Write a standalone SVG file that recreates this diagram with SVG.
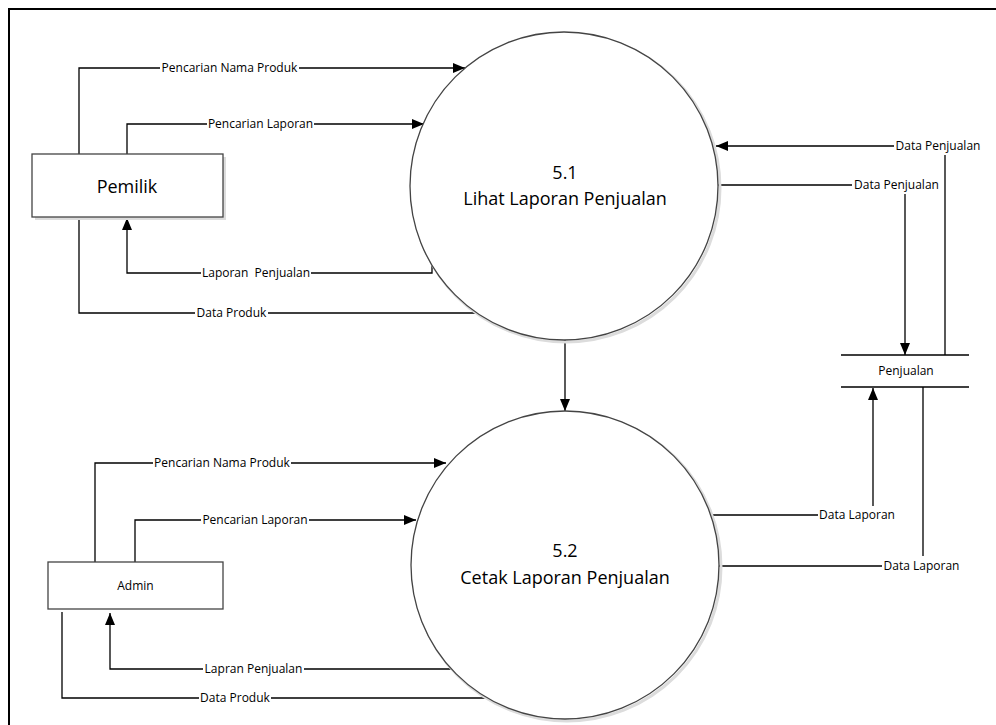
<svg xmlns="http://www.w3.org/2000/svg" width="996" height="725" viewBox="0 0 996 725">
  <style>
    .flow { fill: none; stroke: #000; stroke-width: 1.3; }
    .arr { marker-end: url(#head); }
    .bg { fill: #fff; }
    .lbl { font-family: "Open Sans", "Noto Sans", sans-serif; font-size: 12px; fill: #000; }
    .proc { fill: #fff; stroke: #444; stroke-width: 1.3; }
    .shadow { fill: none; stroke: #dcdcdc; stroke-width: 3; }
    .ptext { font-family: "Open Sans", "Noto Sans", sans-serif; font-size: 18px; fill: #000; text-anchor: middle; }
    .ent { fill: #fff; stroke: #444; stroke-width: 1.3; }
  </style>
  <defs>
    <marker id="head" viewBox="0 0 12 10" refX="12" refY="5" markerWidth="12" markerHeight="10" markerUnits="userSpaceOnUse" orient="auto">
      <path d="M0,0 L12,5 L0,10 Z" fill="#000"/>
    </marker>
  </defs>

  <rect width="996" height="725" fill="#fff"/>
  <!-- page frame -->
  <path d="M9,725 V9 H996" fill="none" stroke="#000" stroke-width="2"/>

  <!-- connectors -->
  <g id="connectors">
    <!-- Pemilik -> 5.1 -->
    <path class="flow arr" d="M79,154 V68 H465"/>
    <rect class="bg" x="160" y="61" width="139" height="14"/>
    <text class="lbl" x="229.5" y="72" text-anchor="middle">Pencarian Nama Produk</text>
    <path class="flow arr" d="M127,154 V124 H424"/>
    <rect class="bg" x="207" y="117" width="107" height="14"/>
    <text class="lbl" x="260.5" y="128" text-anchor="middle">Pencarian Laporan</text>
    <!-- 5.1 -> Pemilik -->
    <path class="flow arr" d="M432,262 V273 H127 V218"/>
    <rect class="bg" x="201" y="266" width="110" height="14"/>
    <text class="lbl" x="256" y="277" text-anchor="middle" xml:space="preserve">Laporan  Penjualan</text>
    <path class="flow" d="M478,313 H79 V217"/>
    <rect class="bg" x="195" y="306" width="73" height="14"/>
    <text class="lbl" x="231.5" y="317" text-anchor="middle">Data Produk</text>

    <!-- 5.1 -> 5.2 -->
    <path class="flow arr" d="M565,340 V411"/>

    <!-- Penjualan store <-> 5.1 -->
    <path class="flow arr" d="M945,355 V146 H716"/>
    <rect class="bg" x="894" y="139" width="90" height="16"/>
    <text class="lbl" x="938" y="150" text-anchor="middle">Data Penjualan</text>
    <path class="flow arr" d="M718,185 H905 V355"/>
    <rect class="bg" x="852" y="178" width="90" height="16"/>
    <text class="lbl" x="896.5" y="189" text-anchor="middle">Data Penjualan</text>

    <!-- 5.2 <-> Penjualan store -->
    <path class="flow arr" d="M711,515 H873 V388"/>
    <rect class="bg" x="818" y="506" width="79" height="16"/>
    <text class="lbl" x="857" y="519" text-anchor="middle">Data Laporan</text>
    <path class="flow" d="M718,566 H923 V387"/>
    <rect class="bg" x="882" y="556" width="80" height="17"/>
    <text class="lbl" x="921.5" y="570" text-anchor="middle">Data Laporan</text>

    <!-- Admin -> 5.2 -->
    <path class="flow arr" d="M95,562 V463 H446"/>
    <rect class="bg" x="153" y="456" width="138" height="14"/>
    <text class="lbl" x="222" y="467" text-anchor="middle">Pencarian Nama Produk</text>
    <path class="flow arr" d="M135,562 V520 H416"/>
    <rect class="bg" x="201" y="513" width="108" height="14"/>
    <text class="lbl" x="255" y="524" text-anchor="middle">Pencarian Laporan</text>
    <!-- 5.2 -> Admin -->
    <path class="flow arr" d="M455,669 H110 V613"/>
    <rect class="bg" x="203" y="662" width="101" height="14"/>
    <text class="lbl" x="253.5" y="673" text-anchor="middle">Lapran Penjualan</text>
    <path class="flow" d="M493,698 H62 V612"/>
    <rect class="bg" x="199" y="691" width="72" height="14"/>
    <text class="lbl" x="235" y="702" text-anchor="middle">Data Produk</text>
  </g>

  <!-- process 5.1 -->
  <g id="proc-5-1">
    <circle class="shadow" cx="566" cy="188" r="154"/>
    <circle class="proc" cx="564" cy="186" r="154"/>
    <text class="ptext" x="565" y="179">5.1</text>
    <text class="ptext" x="565" y="205">Lihat Laporan Penjualan</text>
  </g>

  <!-- process 5.2 -->
  <g id="proc-5-2">
    <circle class="shadow" cx="567" cy="567" r="154"/>
    <circle class="proc" cx="565" cy="565" r="154"/>
    <text class="ptext" x="565" y="557">5.2</text>
    <text class="ptext" x="565" y="584">Cetak Laporan Penjualan</text>
  </g>

  <!-- external entity: Pemilik -->
  <g id="pemilik">
    <rect x="35" y="157" width="191" height="63" fill="#dcdcdc"/>
    <rect class="ent" x="32" y="154" width="191" height="63"/>
    <text class="ptext" x="127" y="193">Pemilik</text>
  </g>

  <!-- external entity: Admin -->
  <g id="admin">
    <rect class="ent" x="48" y="562" width="175" height="47"/>
    <text class="lbl" x="135.5" y="590" text-anchor="middle">Admin</text>
  </g>

  <!-- data store: Penjualan -->
  <g id="store-penjualan">
    <path d="M841,355 H969 M841,387 H969" fill="none" stroke="#000" stroke-width="1.3"/>
    <text class="lbl" x="906" y="375" text-anchor="middle">Penjualan</text>
  </g>
</svg>
